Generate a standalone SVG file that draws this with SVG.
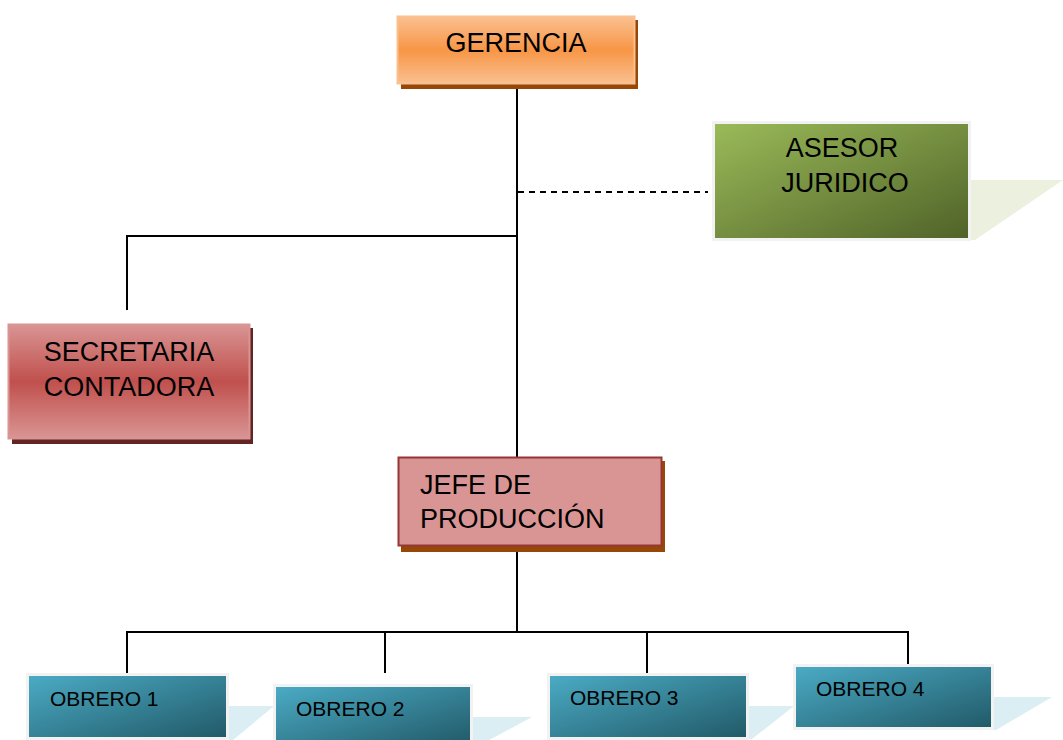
<svg xmlns="http://www.w3.org/2000/svg" width="1063" height="740" viewBox="0 0 1063 740">
<defs>
<linearGradient id="gOrange" x1="0" y1="0" x2="0" y2="1">
<stop offset="0" stop-color="#fac090"/><stop offset="0.5" stop-color="#f79646"/><stop offset="1" stop-color="#fac090"/>
</linearGradient>
<linearGradient id="gRed" x1="0" y1="0" x2="0" y2="1">
<stop offset="0" stop-color="#d99594"/><stop offset="0.5" stop-color="#c0504d"/><stop offset="1" stop-color="#d99594"/>
</linearGradient>
<linearGradient id="gGreen" x1="0" y1="0" x2="1" y2="1">
<stop offset="0" stop-color="#9bbb59"/><stop offset="1" stop-color="#4f6228"/>
</linearGradient>
<linearGradient id="gTeal" x1="0" y1="0" x2="1" y2="1">
<stop offset="0" stop-color="#4bacc6"/><stop offset="1" stop-color="#215967"/>
</linearGradient>
</defs>
<style>
text{font-family:"Liberation Sans",Arial,sans-serif;fill:#000}
.big{font-size:27px}
.small{font-size:21px}
.conn{stroke:#000;stroke-width:2;fill:none}
.dash{stroke:#000;stroke-width:2;fill:none;stroke-dasharray:6,5}
.teal{fill:url(#gTeal);stroke:#f2f2f2;stroke-width:3}
.tealShadow{fill:#daeef3}
</style>
<rect width="1063" height="740" fill="#fff"/>
<g id="connectors">
<line class="conn" x1="517" y1="88" x2="517" y2="458"/>
<line class="conn" x1="517" y1="550" x2="517" y2="632"/>
<polyline class="conn" points="517,236 127,236 127,310"/>
<line class="dash" x1="518" y1="192" x2="708" y2="192"/>
<line class="conn" x1="126" y1="632" x2="909" y2="632"/>
<line class="conn" x1="127" y1="632" x2="127" y2="673"/>
<line class="conn" x1="385" y1="632" x2="385" y2="673"/>
<line class="conn" x1="647" y1="632" x2="647" y2="673"/>
<line class="conn" x1="908" y1="632" x2="908" y2="672"/>
</g>
<g id="gerencia">
<rect x="401" y="20" width="237" height="69" fill="#984806"/>
<rect x="397.5" y="16.5" width="237" height="67" fill="url(#gOrange)" stroke="#fac090" stroke-width="2"/>
<text class="big" x="516" y="52" text-anchor="middle">GERENCIA</text>
</g>
<g id="asesor">
<polygon points="968,180 1063,180 975,240 968,240" fill="#ebf1de"/>
<rect x="713.5" y="122.5" width="256" height="117" fill="url(#gGreen)" stroke="#f2f2f2" stroke-width="3"/>
<text class="big" x="842" y="157" text-anchor="middle">ASESOR</text>
<text class="big" x="845" y="192" text-anchor="middle">JURIDICO</text>
</g>
<g id="secretaria">
<rect x="12" y="328" width="241" height="116" fill="#632523"/>
<rect x="8.5" y="324.5" width="241" height="114" fill="url(#gRed)" stroke="#d99594" stroke-width="2"/>
<text class="big" x="129" y="361" text-anchor="middle">SECRETARIA</text>
<text class="big" x="129" y="396" text-anchor="middle">CONTADORA</text>
</g>
<g id="jefe">
<rect x="401" y="461" width="264" height="91" fill="#984806"/>
<rect x="398.5" y="457.5" width="263" height="88" fill="#d99594" stroke="#953734" stroke-width="2"/>
<text class="big" x="420" y="494">JEFE DE</text>
<text class="big" x="420" y="528">PRODUCCIÓN</text>
</g>
<g id="obrero1">
<polygon points="226,706 274,706 233,740 226,740" class="tealShadow"/>
<rect x="27.5" y="674.5" width="200" height="64" class="teal"/>
<text class="small" x="50" y="706">OBRERO 1</text>
</g>
<g id="obrero2">
<polygon points="471,717 532,717 480,745 471,745" class="tealShadow"/>
<rect x="274.5" y="685.5" width="197" height="60" class="teal"/>
<text class="small" x="296" y="716">OBRERO 2</text>
</g>
<g id="obrero3">
<polygon points="747,706 794,706 752,739 747,739" class="tealShadow"/>
<rect x="548.5" y="674.5" width="199" height="64" class="teal"/>
<text class="small" x="570" y="705">OBRERO 3</text>
</g>
<g id="obrero4">
<polygon points="992,697 1052,697 996,730 992,730" class="tealShadow"/>
<rect x="794.5" y="665.5" width="198" height="63" class="teal"/>
<text class="small" x="816" y="696">OBRERO 4</text>
</g>
</svg>
